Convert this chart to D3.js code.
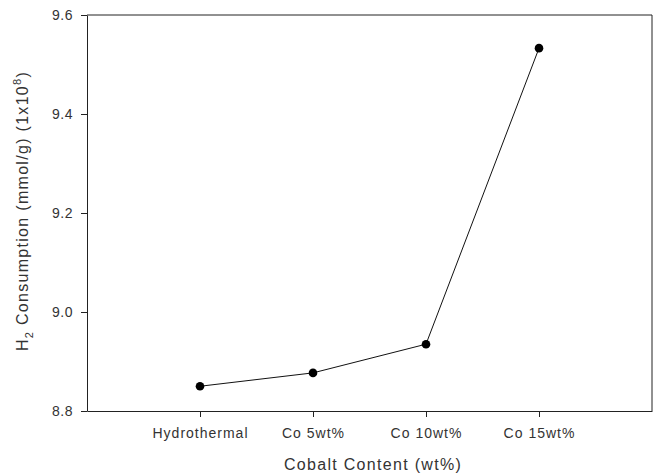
<!DOCTYPE html>
<html>
<head>
<meta charset="utf-8">
<script src="https://cdn.jsdelivr.net/npm/d3@7"></script>
<style>
  html, body { margin: 0; padding: 0; background: #fff; }
  svg { display: block; font-family: "Liberation Sans", Arial, sans-serif; }
</style>
</head>
<body>
<svg id="chart" width="663" height="475"></svg>
<script>
// Hydrogen consumption vs cobalt loading
const categories = ["Hydrothermal", "Co 5wt%", "Co 10wt%", "Co 15wt%"];
const categoryPos = [1, 2, 3, 4];
const h2Values = [8.850, 8.877, 8.935, 9.533];
const yTicks = [8.8, 9.0, 9.2, 9.4, 9.6];

const svg = d3.select("#chart");
const margin = { left: 87, top: 15, right: 11, bottom: 64 };
const W = 663, H = 475;
const iw = W - margin.left - margin.right;
const ih = H - margin.top - margin.bottom;

const x = d3.scaleLinear().domain([0, 5]).range([margin.left, margin.left + iw]);
const y = d3.scaleLinear().domain([8.8, 9.6]).range([margin.top + ih, margin.top]);

const ink = "#222";
const textInk = "#333";
const fontFam = "'Liberation Sans', Arial, sans-serif";

// frame: top and right edges
svg.append("path")
  .attr("d", `M${x(0)},${y(9.6)}H${x(5)}V${y(8.8)}`)
  .attr("fill", "none").attr("stroke", ink).attr("stroke-width", 1);

// y axis
const yAxis = svg.append("g")
  .attr("transform", `translate(${x(0)},0)`)
  .call(d3.axisLeft(y).tickValues(yTicks).tickFormat(d3.format(".1f")).tickSize(6).tickSizeOuter(0).tickPadding(8));
yAxis.select(".domain").attr("stroke", ink);
yAxis.selectAll(".tick line").attr("stroke", ink);
yAxis.selectAll(".tick text").attr("font-size", 14).attr("fill", textInk)
  .attr("letter-spacing", 0.5).attr("font-family", fontFam);

// x axis
const xAxis = svg.append("g")
  .attr("transform", `translate(0,${y(8.8)})`)
  .call(d3.axisBottom(x).tickValues(categoryPos).tickFormat((d, i) => categories[i]).tickSize(6).tickSizeOuter(0).tickPadding(11));
xAxis.select(".domain").attr("stroke", ink);
xAxis.selectAll(".tick line").attr("stroke", ink);
xAxis.selectAll(".tick text").attr("font-size", 14).attr("fill", textInk)
  .attr("letter-spacing", 1).attr("font-family", fontFam);

// line + markers
const pts = categoryPos.map((p, i) => [p, h2Values[i]]);
svg.append("path")
  .datum(pts)
  .attr("d", d3.line().x(d => x(d[0])).y(d => y(d[1])))
  .attr("fill", "none").attr("stroke", "#111").attr("stroke-width", 1);

svg.selectAll("circle.pt")
  .data(pts).enter().append("circle")
  .attr("class", "pt")
  .attr("cx", d => x(d[0])).attr("cy", d => y(d[1]))
  .attr("r", 4.3).attr("fill", "#000");

// axis titles
svg.append("text")
  .attr("x", 373).attr("y", 470)
  .attr("text-anchor", "middle").attr("font-size", 16).attr("fill", textInk)
  .attr("letter-spacing", 1.3)
  .text("Cobalt Content (wt%)");

const yt = svg.append("text")
  .attr("transform", `translate(27.5,211) rotate(-90)`)
  .attr("text-anchor", "middle").attr("font-size", 16).attr("fill", textInk)
  .attr("letter-spacing", 1.3);
yt.append("tspan").text("H");
yt.append("tspan").attr("font-size", 11).attr("dy", 5).text("2");
yt.append("tspan").attr("dy", -5).text(" Consumption (mmol/g) (1x10");
yt.append("tspan").attr("font-size", 11).attr("dy", -7).text("8");
yt.append("tspan").attr("dy", 7).text(")");
</script>
</body>
</html>
